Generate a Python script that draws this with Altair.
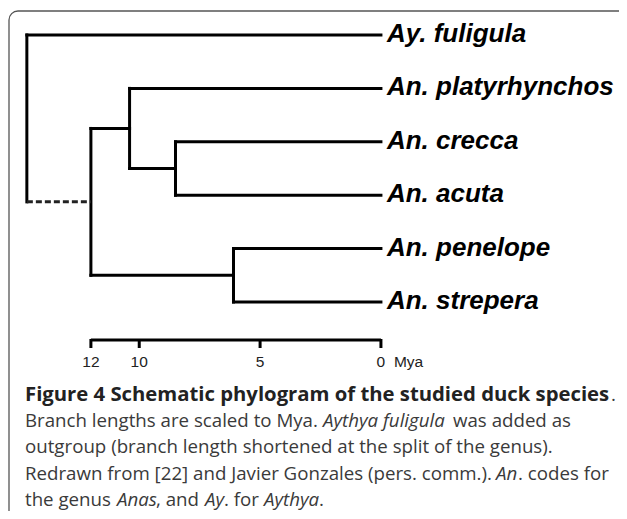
import altair as alt
import pandas as pd

# ---------------- data ----------------
species = ["Ay. fuligula", "An. platyrhynchos", "An. crecca",
           "An. acuta", "An. penelope", "An. strepera"]
species_row = [0, 1, 2, 3, 4, 5]

# node ages (Mya); root is schematic (branch shortened)
node_names = ["root", "anas", "platy_clade", "crecca_acuta", "penelope_strepera"]
node_ages = [14.65, 12.0, 10.4, 8.5, 6.1]
node_parent = [None, "root", "anas", "platy_clade", "anas"]
species_parent = ["root", "platy_clade", "crecca_acuta", "crecca_acuta",
                  "penelope_strepera", "penelope_strepera"]
dashed_edges = [("root", "anas")]

scale_ticks = [12, 10, 5, 0]
scale_unit = "Mya"

# ---------------- build tree geometry in data units ----------------
age = dict(zip(node_names, node_ages))
children = {n: [] for n in node_names}
row = {}
for s, r, p in zip(species, species_row, species_parent):
    children[p].append(s)
    row[s] = r
for n, p in zip(node_names, node_parent):
    if p is not None:
        children[p].append(n)


def node_row(n):
    if n in row:
        return row[n]
    rs = [node_row(c) for c in children[n]]
    row[n] = (min(rs) + max(rs)) / 2
    return row[n]


for n in node_names:
    node_row(n)

h_solid, h_dash, verts = [], [], []
for s, p in zip(species, species_parent):
    h_solid.append({"x": age[p], "x2": 0.0, "y": row[s]})
for n, p in zip(node_names, node_parent):
    if p is None:
        continue
    seg = {"x": age[p], "x2": age[n], "y": row[n]}
    (h_dash if (p, n) in dashed_edges else h_solid).append(seg)
for n in node_names:
    rs = [row[c] for c in children[n]]
    verts.append({"x": age[n], "y": min(rs), "y2": max(rs)})

h_solid = pd.DataFrame(h_solid)
h_dash = pd.DataFrame(h_dash)
verts = pd.DataFrame(verts)
labels = pd.DataFrame({"name": species, "x": [0.0] * len(species), "y": species_row})
bar = pd.DataFrame({"x": [max(scale_ticks)], "x2": [min(scale_ticks)]})
ticks = pd.DataFrame({"x": scale_ticks, "lab": [str(t) for t in scale_ticks]})
unit = pd.DataFrame({"x": [min(scale_ticks)], "lab": [scale_unit]})

W, H = 611, 503
xscale = alt.Scale(domain=[-9.85, 15.43], reverse=True, nice=False, zero=False)
yscale = alt.Scale(domain=[-0.5056, 8.914], reverse=True, nice=False, zero=False)
X = lambda f: alt.X(f, type="quantitative", scale=xscale, axis=None)
Y = lambda f: alt.Y(f, type="quantitative", scale=yscale, axis=None)

one = pd.DataFrame({"a": [0]})
border = alt.Chart(one).mark_rect(
    fillOpacity=0, stroke="#555555", strokeWidth=1.3, cornerRadius=9
).encode(x=alt.value(1), x2=alt.value(640), y=alt.value(3), y2=alt.value(560))

solid = alt.Chart(h_solid).mark_rule(
    color="black", strokeWidth=3, strokeCap="square"
).encode(x=X("x"), x2="x2", y=Y("y"))

vert = alt.Chart(verts).mark_rule(
    color="black", strokeWidth=3, strokeCap="square"
).encode(x=X("x"), y=Y("y"), y2="y2")

dash = alt.Chart(h_dash).mark_rule(
    color="#222222", strokeWidth=3, strokeDash=[6, 3]
).encode(x=X("x"), x2="x2", y=Y("y"))

names = alt.Chart(labels).mark_text(
    align="left", baseline="alphabetic", dx=6, dy=7,
    font="Liberation Sans", fontSize=26, fontWeight="bold", fontStyle="italic",
    color="black"
).encode(x=X("x"), y=Y("y"), text="name")

bar_rule = alt.Chart(bar).mark_rule(color="black", strokeWidth=3).encode(
    x=X("x"), x2="x2", y=alt.value(332))
tick_rule = alt.Chart(ticks).mark_rule(color="black", strokeWidth=3).encode(
    x=X("x"), y=alt.value(331), y2=alt.value(340))
tick_lab = alt.Chart(ticks).mark_text(
    align="center", baseline="alphabetic", font="Liberation Sans",
    fontSize=15.5, color="#222222"
).encode(x=X("x"), y=alt.value(359), text="lab")
unit_lab = alt.Chart(unit).mark_text(
    align="left", baseline="alphabetic", dx=13, font="Liberation Sans",
    fontSize=15.5, color="#222222"
).encode(x=X("x"), y=alt.value(359), text="lab")

# ---------------- caption (layout: page px minus 8px margin) ----------------
caption_runs = [
    # text, x, baseline y, size, weight, style
    ("Figure 4 Schematic phylogram of the studied duck species", 17, 393, 20.3, "bold", "normal"),
    (".", 603, 393, 18.7, "normal", "normal"),
    ("Branch lengths are scaled to Mya.", 17, 419, 18.7, "normal", "normal"),
    ("Aythya fuligula", 315, 419, 18.7, "normal", "italic"),
    ("was added as", 445, 419, 18.7, "normal", "normal"),
    ("outgroup (branch length shortened at the split of the genus).", 17, 445, 18.7, "normal", "normal"),
    ("Redrawn from [22] and Javier Gonzales (pers. comm.).", 17, 472, 18.7, "normal", "normal"),
    ("An", 488, 472, 18.7, "normal", "italic"),
    (". codes for", 510, 472, 18.7, "normal", "normal"),
    ("the genus", 17, 498, 18.7, "normal", "normal"),
    ("Anas", 109, 498, 18.7, "normal", "italic"),
    (", and", 148, 498, 18.7, "normal", "normal"),
    ("Ay", 197, 498, 18.7, "normal", "italic"),
    (". for", 216, 498, 18.7, "normal", "normal"),
    ("Aythya", 256, 498, 18.7, "normal", "italic"),
    (".", 311, 498, 18.7, "normal", "normal"),
]
cap_layers = []
for t, x, y, fs, w, st in caption_runs:
    cap_layers.append(
        alt.Chart(one).mark_text(
            text=t, align="left", baseline="alphabetic", font="Open Sans",
            fontSize=fs, fontWeight=w, fontStyle=st,
            color="#222222" if w == "bold" else "#3a3a3a"
        ).encode(x=alt.value(x), y=alt.value(y))
    )

chart = alt.layer(
    border, solid, vert, dash, names, bar_rule, tick_rule, tick_lab, unit_lab,
    *cap_layers
).properties(
    width=W, height=H, padding=0, autosize=alt.AutoSizeParams(type="none"),
    background="white"
).configure_view(stroke=None)

chart.save("out.html", embed_options={"renderer": "svg", "actions": False})
